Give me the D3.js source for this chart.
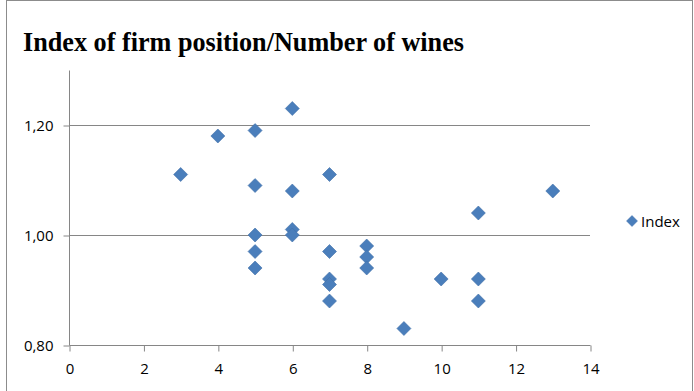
<!DOCTYPE html>
<html><head><meta charset="utf-8">
<script src="https://cdn.jsdelivr.net/npm/d3@7"></script>
<style>
html,body{margin:0;padding:0;background:#fff;}
svg{display:block;}
</style></head>
<body><svg id="c" width="694" height="391"></svg>
<script>
const title = "Index of firm position/Number of wines";
const seriesName = "Index";
const xValues = [3, 4, 5, 5, 5, 5, 5, 6, 6, 6, 6, 7, 7, 7, 7, 7, 8, 8, 8, 9, 10, 11, 11, 11, 13];
const yValues = [1.11, 1.18, 1.19, 1.09, 1.00, 0.97, 0.94, 1.23, 1.08, 1.01, 1.00, 1.11, 0.97, 0.92, 0.91, 0.88, 0.98, 0.96, 0.94, 0.83, 0.92, 1.04, 0.92, 0.88, 1.08];
const xTicks = [0, 2, 4, 6, 8, 10, 12, 14];
const yTicks = [0.80, 1.00, 1.20];

const svg = d3.select("#c");
const W = 694, H = 391;
const m = {left: 69, right: 590, top: 70, bottom: 345};
const x = d3.scaleLinear().domain([0, 14]).range([m.left, m.right]);
const y = d3.scaleLinear().domain([0.8, 1.3]).range([m.bottom, m.top]);
const axisColor = "#868686";
const blue = "#4a7ebb";

svg.append("rect").attr("x", 6.5).attr("y", 0.5).attr("width", 686).attr("height", H + 10)
  .attr("fill", "#fff").attr("stroke", "#8c8c8c");

svg.append("text").attr("x", 23).attr("y", 51)
  .attr("font-family", "'Liberation Serif','Times New Roman',serif")
  .attr("font-weight", "bold").attr("font-size", 27).attr("fill", "#000")
  .attr("textLength", 441).attr("lengthAdjust", "spacingAndGlyphs")
  .text(title);

// gridlines
svg.append("g").selectAll("line").data(yTicks.filter(d => d > 0.8)).join("line")
  .attr("x1", m.left).attr("x2", m.right)
  .attr("y1", d => Math.round(y(d)) + 0.5).attr("y2", d => Math.round(y(d)) + 0.5)
  .attr("stroke", axisColor).attr("stroke-width", 1);

const fontLab = "'Open Sans','Liberation Sans',sans-serif";

// y axis
const yAxis = d3.axisLeft(y).tickValues(yTicks).tickSize(6).tickPadding(10)
  .tickFormat(d => d3.format(".2f")(d).replace(".", ","));
const gy = svg.append("g").attr("transform", `translate(${m.left + 0.5},0.5)`).call(yAxis);
gy.select(".domain").attr("stroke", axisColor).attr("d", `M0,${m.top}V${m.bottom}`);
gy.selectAll(".tick line").attr("stroke", axisColor);
gy.selectAll(".tick text").attr("font-family", fontLab).attr("font-size", 15).attr("fill", "#000");

// x axis
const xAxis = d3.axisBottom(x).tickValues(xTicks).tickSize(6).tickPadding(12).tickFormat(d3.format("d"));
const gx = svg.append("g").attr("transform", `translate(0.5,${m.bottom + 0.5})`).call(xAxis);
gx.select(".domain").attr("stroke", axisColor).attr("d", `M${m.left},0H${m.right}`);
gx.selectAll(".tick line").attr("stroke", axisColor);
gx.selectAll(".tick text").attr("font-family", fontLab).attr("font-size", 15).attr("fill", "#000");

// points
const diamond = (cx, cy, r) => `M${cx},${cy - r}L${cx + r},${cy}L${cx},${cy + r}L${cx - r},${cy}Z`;
const pts = xValues.map((v, i) => ({x: v, y: yValues[i]}));
svg.append("g").selectAll("path").data(pts).join("path")
  .attr("d", d => diamond(x(d.x), y(d.y), 7))
  .attr("fill", blue).attr("stroke", "#3f6fa8").attr("stroke-width", 0.6);

// legend
const lg = svg.append("g");
lg.append("path").attr("d", diamond(632, 221, 5.5)).attr("fill", blue).attr("stroke", "#3f6fa8").attr("stroke-width", 0.5);
lg.append("text").attr("x", 641).attr("y", 226.5).attr("font-family", fontLab).attr("font-size", 15)
  .attr("fill", "#000").text(seriesName);
</script></body></html>
